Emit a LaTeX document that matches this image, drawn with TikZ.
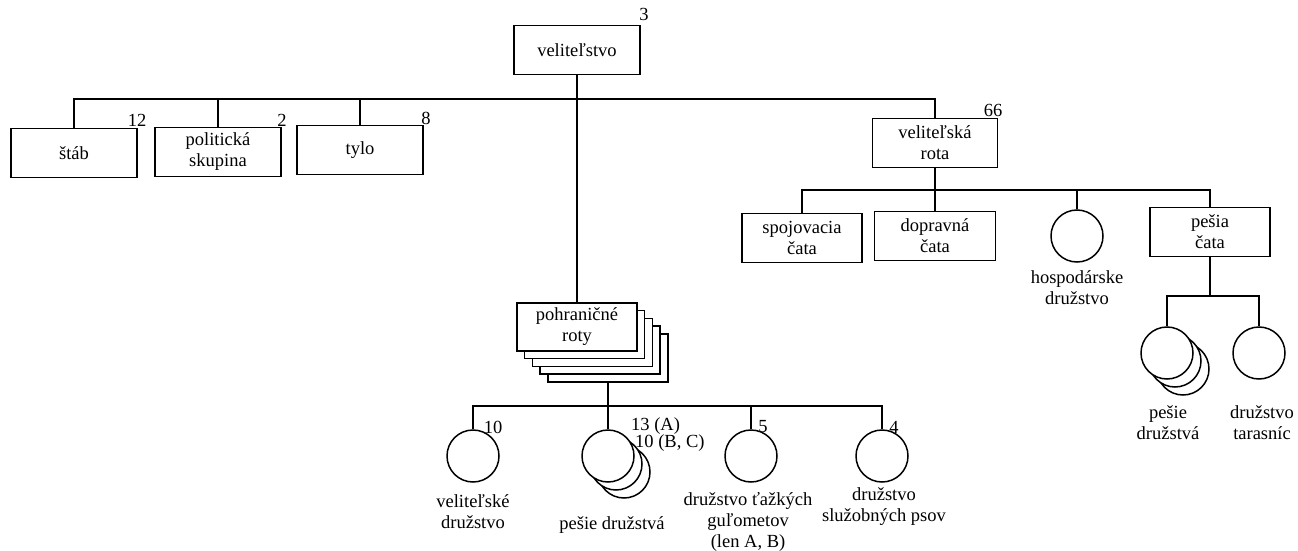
\documentclass[tikz,border=0pt]{standalone}
\usepackage{fontspec}
\setmainfont{Liberation Serif}
\usetikzlibrary{positioning,calc}

\tikzset{
  unit/.style={draw, line width=1.5pt, fill=white, minimum width=126pt, minimum height=49pt, align=center, inner sep=0pt, font=\fontsize{18.5}{21}\selectfont},
  squad/.style={draw, circle, line width=1.5pt, fill=white, minimum size=52pt, inner sep=0pt},
  conn/.style={line width=2.5pt},
  num/.style={font=\fontsize{18.5}{21}\selectfont, inner sep=0pt},
  lab/.style={font=\fontsize{18.5}{21}\selectfont, align=center, inner sep=0pt, anchor=north},
}

\begin{document}
\begin{tikzpicture}[x=1pt,y=-1pt]
    \useasboundingbox (0,0) rectangle (1298,551);

    % velitelstvo a stab
    \node[unit] (vel) at (577,50) {veliteľstvo};
    \node[unit] (stab) at (74,153) {štáb};
    \node[unit] (polit) at (218,152) {politická\\skupina};
    \node[unit] (tylo) at (360,150) {tylo};
    \node[unit, minimum width=125pt] (velrota) at (935,143) {veliteľská\\rota};

    % veliteľská rota
    \node[unit, minimum width=120pt] (spoj) at (802,238) {spojovacia\\čata};
    \node[unit, minimum width=121pt] (doprav) at (935,236) {dopravná\\čata};
    \node[squad] (hosp) at (1077,236) {};
    \node[unit, minimum width=120pt] (pesiacata) at (1210,232) {pešia\\čata};
    \foreach \k in {2,1}
        \node[squad] (pesie\k) at ($(1167,353)+(8*\k,8*\k)$) {};
    \node[squad] (pesie) at (1167,353) {};
    \node[squad] (taras) at (1259,353) {};

    % pohraničné roty
    \foreach \k in {4,3,2,1}
        \node[unit, minimum width=120pt, minimum height=48pt] (pohr\k) at ($(577,327)+(7.7*\k,7.7*\k)$) {};
    \node[unit, minimum width=120pt, minimum height=48pt] (pohr) at (577,327) {pohraničné\\roty};
    \node[squad] (veldr) at (473,456) {};
    \foreach \k in {2,1}
        \node[squad] (pesdr\k) at ($(608,456)+(8*\k,8*\k)$) {};
    \node[squad] (pesdr) at (608,456) {};
    \node[squad] (gulo) at (751,456) {};
    \node[squad] (psov) at (882,456) {};

    % Connectors
    \coordinate (topbus) at (577,99);
    \coordinate (rotabus) at (935,190);
    \coordinate (catabus) at (1210,296);
    \coordinate (rotybus) at (608,406);
    \draw[conn] (vel) -- (pohr);
    \draw[conn] (stab.north) -- (stab.north |- topbus) -| (velrota.north);
    \draw[conn] (polit) -- (polit |- topbus);
    \draw[conn] (tylo) -- (tylo |- topbus);
    \draw[conn] (spoj.north) -- (spoj.north |- rotabus) -| (pesiacata.north);
    \draw[conn] (velrota) -- (doprav);
    \draw[conn] (hosp) -- (hosp |- rotabus);
    \draw[conn] (pesiacata) -- (pesiacata |- catabus);
    \draw[conn] (pesie.north) -- (pesie.north |- catabus) -| (taras.north);
    \draw[conn] (pohr4) -- (pohr4 |- rotybus);
    \draw[conn] (veldr.north) -- (veldr.north |- rotybus) -| (psov.north);
    \draw[conn] (pesdr) -- (pesdr |- rotybus);
    \draw[conn] (gulo) -- (gulo |- rotybus);

    % Numbers
    \node[num] (n3) at (644,14) {3};
    \node[num] (n12) at (137,120) {12};
    \node[num] (n2) at (282,120) {2};
    \node[num] (n8) at (426,118) {8};
    \node[num] (n66) at (993,110) {66};
    \node[num] (n10) at (493,427) {10};
    \node[num, anchor=west] (n13) at (631,426) {13 (A)};
    \node[num, anchor=west] (n10b) at (635,443) {10 (B, C)};
    \node[num] (n5) at (763,427) {5};
    \node[num] (n4) at (894,427) {4};

    % Labels
    \node[lab] (hospl) at (1077,270) {hospodárske\\družstvo};
    \node[lab] (pesiel) at (1168,405) {pešie\\družstvá};
    \node[lab] (tarasl) at (1262,405) {družstvo\\tarasníc};
    \node[lab] (veldrl) at (473,494) {veliteľské\\družstvo};
    \node[lab, anchor=base] (pesdrl) at (612,529) {pešie družstvá};
    \node[lab] (gulol) at (748,492) {družstvo ťažkých\\guľometov\\(len A, B)};
    \node[lab] (psovl) at (884,487) {družstvo\\služobných psov};
\end{tikzpicture}
\end{document}
